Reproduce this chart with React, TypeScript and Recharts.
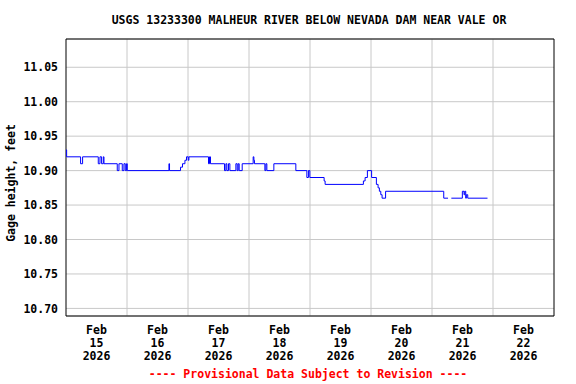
import React from 'react';
import { LineChart, Line, XAxis, YAxis, CartesianGrid, ReferenceArea } from 'recharts';

// hours since Feb 15 2026 00:00 (change points of the step series)
const hours = [0, 0.25, 5.74, 6.53, 12.70, 13.37, 14.00, 14.67, 14.94, 20.17, 20.84, 22.14, 22.80, 23.32, 23.83, 24.10, 40.50, 40.73, 45.06, 45.84, 46.79, 47.42, 48.09, 48.36, 56.07, 56.46, 56.85, 62.36, 62.91, 63.30, 63.93, 64.48, 66.84, 67.35, 67.75, 68.14, 69.32, 73.64, 73.92, 74.15, 78.24, 78.64, 79.03, 81.78, 90.43, 94.76, 95.38, 95.94, 101.56, 101.95, 117.01, 117.68, 118.58, 120.24, 122.12, 122.79, 123.30, 123.85, 124.36, 125.74, 148.62, 150.31, 150.5, 151.61, 155.94, 156.60, 156.88, 157.27, 157.51, 158.06, 165.84];

// gage height, feet
const gage: (number | null)[] = [10.93, 10.92, 10.91, 10.92, 10.91, 10.92, 10.91, 10.92, 10.91, 10.90, 10.91, 10.90, 10.91, 10.90, 10.91, 10.90, 10.91, 10.90, 10.905, 10.91, 10.915, 10.92, 10.915, 10.92, 10.91, 10.92, 10.91, 10.90, 10.91, 10.90, 10.91, 10.90, 10.91, 10.90, 10.91, 10.90, 10.91, 10.92, 10.915, 10.91, 10.90, 10.91, 10.90, 10.91, 10.90, 10.89, 10.90, 10.89, 10.885, 10.88, 10.885, 10.89, 10.90, 10.89, 10.88, 10.875, 10.87, 10.865, 10.86, 10.87, 10.86, 10.86, null, 10.86, 10.87, 10.865, 10.87, 10.86, 10.865, 10.86, 10.86];

const dayLabels = ['15', '16', '17', '18', '19', '20', '21', '22'];
const monthLabel = 'Feb';
const yearLabel = '2026';
const labelHours = [12, 36, 60, 84, 108, 132, 156, 180];
const midnightHours = [24, 48, 72, 96, 120, 144, 168];
const yTicks = [10.70, 10.75, 10.80, 10.85, 10.90, 10.95, 11.00, 11.05];

const title = 'USGS 13233300 MALHEUR RIVER BELOW NEVADA DAM NEAR VALE OR';
const yTitle = 'Gage height, feet';
const footer = '---- Provisional Data Subject to Revision ----';

const data = hours.map((h, i) => ({ h, v: gage[i] }));

const FONT = '"DejaVu Sans Mono", monospace';

const XTick = (props: any) => {
  const { x, y, payload } = props;
  const idx = labelHours.indexOf(payload.value);
  return (
    <text x={x} y={y} textAnchor="middle" fontFamily={FONT} fontWeight="bold" fontSize={11.5} fill="#000">
      <tspan x={x} dy={10}>{monthLabel}</tspan>
      <tspan x={x} dy={12.8}>{dayLabels[idx]}</tspan>
      <tspan x={x} dy={12.8}>{yearLabel}</tspan>
    </text>
  );
};

export default function App() {
  return (
    <div style={{ position: 'absolute', left: 0, top: 0, width: 576, height: 384, background: '#fff' }}>
      <LineChart width={576} height={384} data={data} margin={{ top: 39, right: 22, bottom: 0, left: 0 }}>
        <CartesianGrid stroke="#c8c8c8" verticalValues={midnightHours} />
        <XAxis
          dataKey="h"
          type="number"
          domain={[0, 192]}
          allowDataOverflow
          ticks={labelHours}
          interval={0}
          tick={<XTick />}
          tickLine={false}
          axisLine={false}
          height={68}
        />
        <YAxis
          type="number"
          domain={[10.689, 11.091]}
          allowDataOverflow
          ticks={yTicks}
          interval={0}
          tickFormatter={(v: number) => v.toFixed(2)}
          tick={{ fontFamily: FONT, fontWeight: 'bold', fontSize: 11.5, fill: '#000' }}
          tickLine={false}
          axisLine={false}
          width={66}
        />
        <ReferenceArea x1={0} x2={192} y1={10.689} y2={11.091} fill="none" stroke="#000" strokeWidth={1} fillOpacity={0} ifOverflow="visible" />
        <Line
          dataKey="v"
          type="stepAfter"
          stroke="#0000ff"
          strokeWidth={1}
          dot={false}
          activeDot={false}
          connectNulls={false}
          isAnimationActive={false}
        />
      </LineChart>
      <svg width={576} height={384} style={{ position: 'absolute', left: 0, top: 0, pointerEvents: 'none' }}>
        <text x={309} y={24} textAnchor="middle" fontFamily={FONT} fontWeight="bold" fontSize={11.5} fill="#000">{title}</text>
        <text transform="translate(15,183) rotate(-90)" textAnchor="middle" fontFamily={FONT} fontWeight="bold" fontSize={11.5} fill="#000">{yTitle}</text>
        <text x={308} y={378} textAnchor="middle" fontFamily={FONT} fontWeight="bold" fontSize={11.5} fill="#ff0000">{footer}</text>
      </svg>
    </div>
  );
}
